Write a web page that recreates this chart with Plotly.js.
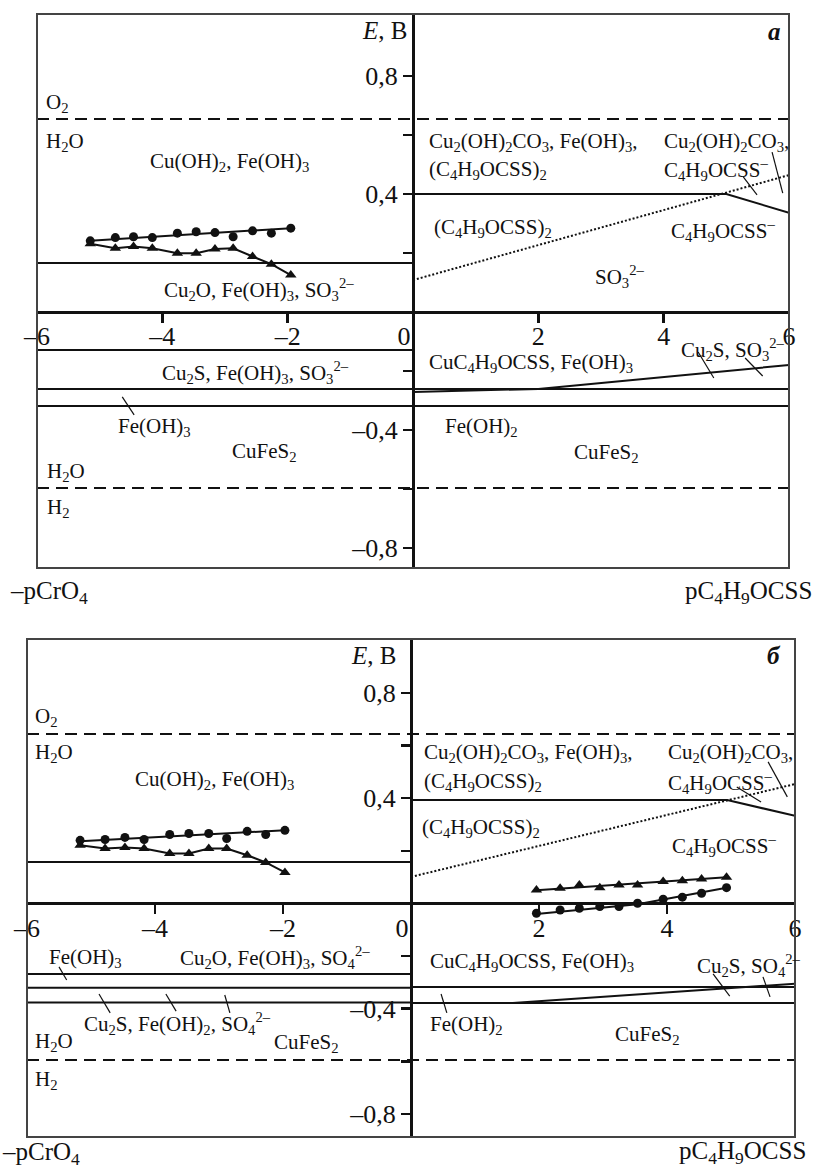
<!DOCTYPE html>
<html><head><meta charset="utf-8">
<script src="https://cdn.plot.ly/plotly-3.0.1.min.js"></script>
<style>html,body{margin:0;padding:0;background:#fff}</style>
</head><body><div id="chart" style="width:817px;height:1169px"></div>
<script>
// ---------- tick labels ----------
const xTickVals = [-6, -4, -2, 0, 2, 4, 6];
const xTickText = ['–6', '–4', '–2', '0\u2002\u2009', '2', '4', '6'];
const yTickVals = [-0.8, -0.6, -0.4, -0.2, 0.2, 0.4, 0.6, 0.8];
const yTickText = ['–0,8', '', '–0,4', '', '', '0,4', '', '0,8'];

// ---------- panel а ----------
const aExpX = [-5.15, -4.75, -4.46, -4.16, -3.76, -3.46, -3.16, -2.87, -2.56, -2.26, -1.95];
const aCircE = [0.241, 0.252, 0.255, 0.252, 0.267, 0.272, 0.269, 0.255, 0.275, 0.267, 0.284];
const aTriE = [0.231, 0.216, 0.222, 0.216, 0.199, 0.199, 0.213, 0.216, 0.188, 0.162, 0.125];
const aCircFitX = [-5.15, -1.95];
const aCircFitE = [0.241, 0.284];
const aWaterE = [0.654, -0.597];
const aLeftLinesE = [0.166, -0.129, -0.261, -0.319];
const aRightFlatE = [-0.261, -0.319];
const aUpperX = [0, 5, 6];
const aUpperE = [0.400, 0.400, 0.336];
const aDotX = [0, 6];
const aDotE = [0.108, 0.464];
const aSlopeX = [0, 2, 6];
const aSlopeE = [-0.271, -0.261, -0.180];
const aPtrX = [5.27, 5.49, null, 5.73, 5.90, null, 4.55, 4.80, null, 5.30, 5.58, null, -4.64, -4.45];
const aPtrE = [0.458, 0.397, null, 0.542, 0.403, null, -0.136, -0.224, null, -0.156, -0.217, null, -0.288, -0.349];

// ---------- panel б ----------
const bLeftX = [-5.17, -4.78, -4.47, -4.17, -3.77, -3.47, -3.16, -2.88, -2.56, -2.27, -1.97];
const bLeftCircE = [0.240, 0.243, 0.251, 0.243, 0.262, 0.266, 0.266, 0.247, 0.274, 0.262, 0.278];
const bLeftTriE = [0.221, 0.209, 0.213, 0.209, 0.190, 0.190, 0.209, 0.209, 0.183, 0.156, 0.118];
const bLeftFitX = [-5.17, -1.97];
const bLeftFitE = [0.236, 0.278];
const bRightX = [1.96, 2.33, 2.63, 2.95, 3.25, 3.54, 3.94, 4.24, 4.54, 4.93];
const bRightTriE = [0.051, 0.058, 0.070, 0.060, 0.070, 0.070, 0.083, 0.086, 0.093, 0.100];
const bRightCircE = [-0.037, -0.025, -0.018, -0.012, -0.012, 0.001, 0.016, 0.024, 0.039, 0.060];
const bTriFitX = [1.96, 4.93];
const bTriFitE = [0.050, 0.100];
const bCircFitX = [1.96, 3.54, 4.93];
const bCircFitE = [-0.040, -0.003, 0.060];
const bWaterE = [0.644, -0.595];
const bLeftLinesE = [0.158, -0.268, -0.320, -0.376];
const bRightFlatE = [-0.317, -0.378];
const bUpperX = [0, 4.94, 6];
const bUpperE = [0.393, 0.393, 0.333];
const bDotX = [0, 6];
const bDotE = [0.101, 0.454];
const bSlopeX = [1.59, 6];
const bSlopeE = [-0.378, -0.305];
const bPtrX = [5.09, 5.47, null, 5.58, 5.88, null, -5.50, -5.38, null, -4.875, -4.70, null, -3.83, -3.67, null, -2.91, -2.83, null, 0.47, 0.56, null, 4.72, 4.98, null, 5.50, 5.61];
const bPtrE = [0.443, 0.386, null, 0.538, 0.405, null, -0.241, -0.291, null, -0.344, -0.416, null, -0.344, -0.409, null, -0.348, -0.416, null, -0.344, -0.416, null, -0.268, -0.352, null, -0.279, -0.355];

// ---------- layout helpers ----------
const W = 817, H = 1169;
const FONT = 'Liberation Serif, Times New Roman, serif';
const INK = '#111';
const px = v => v / W;
const py = v => 1 - v / H;

const panels = [
  {xa: 'x', ya: 'y', xdom: [px(37), px(789)], ydom: [py(568), py(14)], yr: [-0.868, 1.010]},
  {xa: 'x2', ya: 'y2', xdom: [px(27), px(795)], ydom: [py(1137), py(639)], yr: [-0.8875, 1.005]}
];

const traces = [];
function line(p, xs, ys, dash, width) {
  traces.push({type: 'scatter', mode: 'lines', x: xs, y: ys, xaxis: p.xa, yaxis: p.ya,
    line: {color: INK, width: width || 2, dash: dash || 'solid'}, hoverinfo: 'skip', showlegend: false});
}
function marks(p, xs, ys, sym) {
  traces.push({type: 'scatter', mode: 'markers', x: xs, y: ys, xaxis: p.xa, yaxis: p.ya,
    marker: {symbol: sym, size: sym === 'circle' ? 9 : 10, color: INK}, hoverinfo: 'skip', showlegend: false});
}
function hlines(p, vals, x0, x1, dash) {
  vals.forEach(v => line(p, [x0, x1], [v, v], dash));
}

// panel а
const A = panels[0];
hlines(A, aWaterE, -6, 6, '12px,7px');
hlines(A, aLeftLinesE, -6, 0);
hlines(A, aRightFlatE, 0, 6);
line(A, aUpperX, aUpperE);
line(A, aDotX, aDotE, '2px,2px');
line(A, aSlopeX, aSlopeE);
line(A, aPtrX, aPtrE, 'solid', 1.2);
line(A, aCircFitX, aCircFitE);
line(A, aExpX, aTriE);
marks(A, aExpX, aCircE, 'circle');
marks(A, aExpX, aTriE, 'triangle-up');

// panel б
const B = panels[1];
hlines(B, bWaterE, -6, 6, '12px,7px');
hlines(B, bLeftLinesE, -6, 0);
hlines(B, bRightFlatE, 0, 6);
line(B, bUpperX, bUpperE);
line(B, bDotX, bDotE, '2px,2px');
line(B, bSlopeX, bSlopeE);
line(B, bPtrX, bPtrE, 'solid', 1.2);
line(B, bLeftFitX, bLeftFitE);
line(B, bLeftX, bLeftTriE);
marks(B, bLeftX, bLeftCircE, 'circle');
marks(B, bLeftX, bLeftTriE, 'triangle-up');
line(B, bTriFitX, bTriFitE);
line(B, bCircFitX, bCircFitE);
marks(B, bRightX, bRightTriE, 'triangle-up');
marks(B, bRightX, bRightCircE, 'circle');

// ---------- axes ----------
const layout = {
  width: W, height: H, margin: {l: 0, r: 0, t: 0, b: 0},
  paper_bgcolor: '#fff', plot_bgcolor: 'rgba(0,0,0,0)',
  showlegend: false, font: {family: FONT, color: INK},
  shapes: [], annotations: []
};
panels.forEach((p, i) => {
  const sfx = i === 0 ? '' : '2';
  const yZero = p.ydom[0] + (0 - p.yr[0]) / (p.yr[1] - p.yr[0]) * (p.ydom[1] - p.ydom[0]);
  layout['xaxis' + sfx] = {
    domain: p.xdom, range: [-6, 6], anchor: 'free', position: yZero,
    showgrid: false, zeroline: false, showline: true, linecolor: INK, linewidth: 3,
    ticks: 'outside', ticklen: 9, tickwidth: 2.5, tickcolor: INK,
    tickmode: 'array', tickvals: xTickVals, ticktext: xTickText, ticklabelstandoff: -9,
    tickfont: {family: FONT, size: 26, color: INK}, fixedrange: true
  };
  layout['yaxis' + sfx] = {
    domain: p.ydom, range: p.yr, anchor: 'free', position: (p.xdom[0] + p.xdom[1]) / 2,
    showgrid: false, zeroline: false, showline: true, linecolor: INK, linewidth: 3,
    ticks: 'outside', ticklen: 9, tickwidth: 2.5, tickcolor: INK,
    tickmode: 'array', tickvals: yTickVals, ticktext: yTickText,
    tickfont: {family: FONT, size: 26, color: INK}, fixedrange: true
  };
  layout.shapes.push({type: 'rect', xref: p.xa + ' domain', yref: p.ya + ' domain',
    x0: 0, x1: 1, y0: 0, y1: 1, line: {color: '#444', width: 2}, layer: 'above'});
});

// ---------- text labels ----------
const S = s => '<sub>' + s + '</sub>';
const P = s => '<sup>' + s + '</sup>';
const labels = [
  // panel а
  ['O' + S('2'), 44, 103], ['H' + S('2') + 'O', 44, 142],
  ['Cu(OH)' + S('2') + ', Fe(OH)' + S('3'), 148, 162],
  ['Cu' + S('2') + 'O, Fe(OH)' + S('3') + ', SO' + S('3') + P('2–'), 162, 290],
  ['Cu' + S('2') + 'S, Fe(OH)' + S('3') + ', SO' + S('3') + P('2–'), 160, 372],
  ['Fe(OH)' + S('3'), 116, 427], ['CuFeS' + S('2'), 230, 452],
  ['H' + S('2') + 'O', 45, 472], ['H' + S('2'), 45, 508],
  ['Cu' + S('2') + '(OH)' + S('2') + 'CO' + S('3') + ', Fe(OH)' + S('3') + ',', 427, 142],
  ['(C' + S('4') + 'H' + S('9') + 'OCSS)' + S('2'), 427, 170],
  ['Cu' + S('2') + '(OH)' + S('2') + 'CO' + S('3') + ',', 662, 142],
  ['C' + S('4') + 'H' + S('9') + 'OCSS' + P('–'), 662, 170],
  ['(C' + S('4') + 'H' + S('9') + 'OCSS)' + S('2'), 432, 228],
  ['C' + S('4') + 'H' + S('9') + 'OCSS' + P('–'), 669, 230],
  ['SO' + S('3') + P('2–'), 593, 277],
  ['CuC' + S('4') + 'H' + S('9') + 'OCSS, Fe(OH)' + S('3'), 427, 363],
  ['Cu' + S('2') + 'S, SO' + S('3') + P('2–'), 679, 350],
  ['Fe(OH)' + S('2'), 443, 427], ['CuFeS' + S('2'), 572, 453],
  // panel б
  ['O' + S('2'), 33, 717], ['H' + S('2') + 'O', 33, 753],
  ['Cu(OH)' + S('2') + ', Fe(OH)' + S('3'), 133, 780],
  ['Cu' + S('2') + '(OH)' + S('2') + 'CO' + S('3') + ', Fe(OH)' + S('3') + ',', 422, 753],
  ['(C' + S('4') + 'H' + S('9') + 'OCSS)' + S('2'), 422, 782],
  ['Cu' + S('2') + '(OH)' + S('2') + 'CO' + S('3') + ',', 666, 753],
  ['C' + S('4') + 'H' + S('9') + 'OCSS' + P('–'), 666, 782],
  ['(C' + S('4') + 'H' + S('9') + 'OCSS)' + S('2'), 420, 828],
  ['C' + S('4') + 'H' + S('9') + 'OCSS' + P('–'), 670, 845],
  ['Fe(OH)' + S('3'), 47, 958],
  ['Cu' + S('2') + 'O, Fe(OH)' + S('3') + ', SO' + S('4') + P('2–'), 178, 957],
  ['Cu' + S('2') + 'S, Fe(OH)' + S('2') + ', SO' + S('4') + P('2–'), 82, 1023],
  ['H' + S('2') + 'O', 33, 1042], ['CuFeS' + S('2'), 272, 1043], ['H' + S('2'), 33, 1080],
  ['CuC' + S('4') + 'H' + S('9') + 'OCSS, Fe(OH)' + S('3'), 428, 962],
  ['Cu' + S('2') + 'S, SO' + S('4') + P('2–'), 695, 965],
  ['Fe(OH)' + S('2'), 428, 1025], ['CuFeS' + S('2'), 613, 1035]
];
labels.forEach(([t, x, y]) => layout.annotations.push({
  text: t, x: px(x), y: py(y), xref: 'paper', yref: 'paper', xanchor: 'left', yanchor: 'middle',
  showarrow: false, font: {family: FONT, size: 21, color: INK}
}));

const big = [
  ['<i>E</i>, В', 409, 30, 'right'], ['<b><i>а</i></b>', 783, 31, 'right'],
  ['–pC' + 'rO' + S('4'), 8, 592, 'left'], ['pC' + S('4') + 'H' + S('9') + 'OCSS', 814, 592, 'right'],
  ['<i>E</i>, В', 398, 655, 'right'], ['<b><i>б</i></b>', 783, 655, 'right'],
  ['–pC' + 'rO' + S('4'), 0, 1153, 'left'], ['pC' + S('4') + 'H' + S('9') + 'OCSS', 808, 1152, 'right']
];
big.forEach(([t, x, y, a]) => layout.annotations.push({
  text: t, x: px(x), y: py(y), xref: 'paper', yref: 'paper', xanchor: a, yanchor: 'middle',
  showarrow: false, font: {family: FONT, size: 25, color: INK}
}));

Plotly.newPlot('chart', traces, layout, {staticPlot: true, displayModeBar: false});
</script>
</body></html>
